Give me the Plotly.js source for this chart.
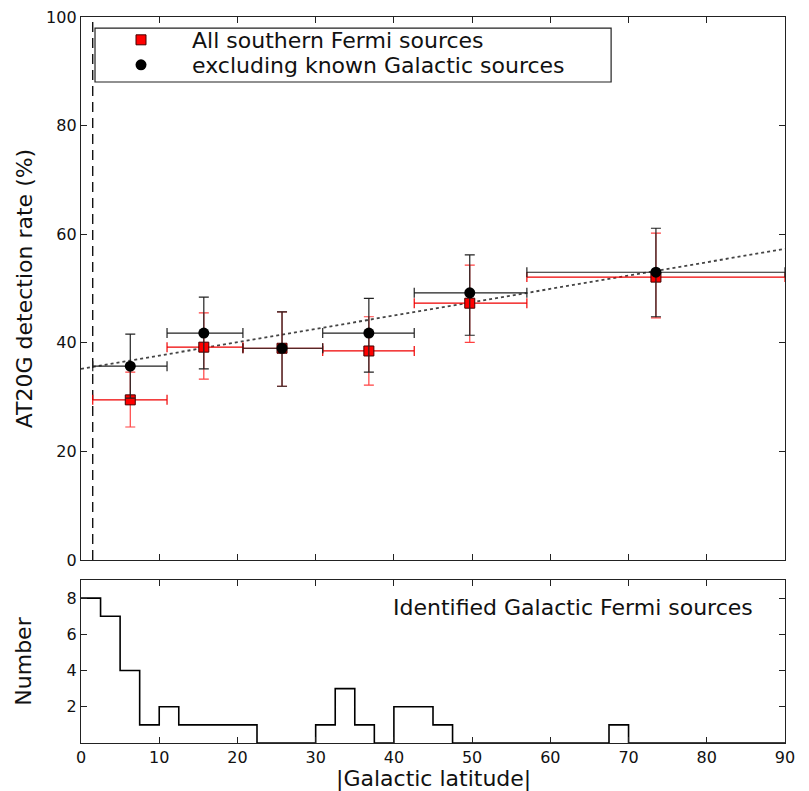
<!DOCTYPE html>
<html>
<head>
<meta charset="utf-8">
<script src="https://cdn.plot.ly/plotly-3.0.1.min.js"></script>
<style>html,body{margin:0;padding:0;background:#fff;}#chart{width:809px;height:791px;}</style>
</head>
<body>
<div id="chart"></div>
<script>
// Detection rate per latitude bin
const binLo = [1.5, 11.0, 20.7, 30.9, 42.6, 57.0];
const binHi = [11.0, 20.7, 30.9, 42.6, 57.0, 90.0];
const latCenter = [6.3, 15.7, 25.7, 36.8, 49.7, 73.5];

const allRate = [29.5, 39.2, 39.0, 38.5, 47.3, 52.1];
const allUpper = [34.6, 45.5, 45.7, 44.8, 54.3, 60.2];
const allLower = [24.5, 33.3, 32.0, 32.2, 40.1, 44.6];

const exRate = [35.7, 41.8, 39.0, 41.8, 49.2, 53.0];
const exUpper = [41.6, 48.4, 45.7, 48.2, 56.2, 61.1];
const exLower = [29.8, 35.2, 32.0, 34.6, 41.4, 44.8];

// linear fit (dotted)
const fitX = [0, 90];
const fitY = [35.2, 57.3];

// latitude cut (dashed)
const cutX = [1.5, 1.5];
const cutY = [0, 100];

// Histogram of identified Galactic Fermi sources (bins of 2.5 deg)
const histEdges = [0,2.5,5,7.5,10,12.5,15,17.5,20,22.5,25,27.5,30,32.5,35,37.5,40,42.5,45,47.5,50,52.5,55,57.5,60,62.5,65,67.5,70,72.5,75,77.5,80,82.5,85,87.5,90];
const histCounts = [8,7,4,1,2,1,1,1,1,0,0,0,1,3,1,0,2,2,1,0,0,0,0,0,0,0,0,1,0,0,0,0,0,0,0,0];

const errPlus = (hi, c) => hi.map((v, i) => v - c[i]);
const errMinus = (lo, c) => lo.map((v, i) => c[i] - v);

const stepX = histEdges.slice();
const stepY = histCounts.concat([histCounts[histCounts.length - 1]]);

const FONT = 'DejaVu Sans, Liberation Sans, sans-serif';

const traces = [
  {
    x: cutX, y: cutY, xaxis: 'x', yaxis: 'y', mode: 'lines',
    line: {color: 'black', width: 1.3, dash: '10px,6px'}, showlegend: false, hoverinfo: 'skip'
  },
  {
    x: fitX, y: fitY, xaxis: 'x', yaxis: 'y', mode: 'lines',
    line: {color: '#444', width: 1.8, dash: 'dot'}, showlegend: false, hoverinfo: 'skip'
  },
  {
    name: 'All southern Fermi sources', legend: 'legend',
    x: latCenter, y: allRate, xaxis: 'x', yaxis: 'y', mode: 'markers',
    marker: {symbol: 'square', size: 10, color: 'red', line: {color: '#400', width: 1}},
    error_y: {type: 'data', array: errPlus(allUpper, allRate), arrayminus: errMinus(allLower, allRate), color: 'rgba(255,0,0,0.75)', thickness: 1.2, width: 5},
    error_x: {type: 'data', array: errPlus(binHi, latCenter), arrayminus: errMinus(binLo, latCenter), color: 'rgb(240,0,0)', thickness: 1.2, width: 5}
  },
  {
    name: 'excluding known Galactic sources', legend: 'legend2',
    x: latCenter, y: exRate, xaxis: 'x', yaxis: 'y', mode: 'markers',
    marker: {symbol: 'circle', size: 11, color: 'black'},
    error_y: {type: 'data', array: errPlus(exUpper, exRate), arrayminus: errMinus(exLower, exRate), color: '#222', thickness: 1.2, width: 5},
    error_x: {type: 'data', array: errPlus(binHi, latCenter), arrayminus: errMinus(binLo, latCenter), color: '#222', thickness: 1.2, width: 5}
  },
  {
    x: stepX, y: stepY, xaxis: 'x2', yaxis: 'y2', mode: 'lines',
    line: {color: 'black', width: 1.6, shape: 'hv'}, showlegend: false, hoverinfo: 'skip'
  }
];

const axisCommon = {
  showline: true, linecolor: '#222', linewidth: 1.2, mirror: 'ticks',
  ticks: 'inside', ticklen: 6, tickcolor: '#222', tickwidth: 1,
  showgrid: false, zeroline: false,
  tickfont: {family: FONT, size: 16, color: '#111'}
};

const legendCommon = {
  xanchor: 'left', yanchor: 'middle',
  bgcolor: 'rgba(0,0,0,0)', borderwidth: 0,
  font: {family: FONT, size: 22, color: '#111'},
  itemwidth: 92, tracegroupgap: 0
};

const layout = {
  width: 809, height: 791,
  margin: {l: 81, r: 24, t: 17, b: 48},
  paper_bgcolor: 'white', plot_bgcolor: 'white',
  font: {family: FONT, color: '#111'},
  showlegend: true,
  legend: Object.assign({}, legendCommon, {x: 0.0128, y: 0.9683}),
  legend2: Object.assign({}, legendCommon, {x: 0.0128, y: 0.9339}),
  xaxis: Object.assign({}, axisCommon, {
    domain: [0, 1], anchor: 'y', range: [0, 90], tickvals: [0,10,20,30,40,50,60,70,80,90], showticklabels: false
  }),
  yaxis: Object.assign({}, axisCommon, {
    domain: [0.252, 1], anchor: 'x', range: [0, 100], tickvals: [0,20,40,60,80,100],
    title: {text: 'AT20G detection rate (%)', font: {family: FONT, size: 22, color: '#111'}, standoff: 7}
  }),
  xaxis2: Object.assign({}, axisCommon, {
    domain: [0, 1], anchor: 'y2', range: [0, 90], tickvals: [0,10,20,30,40,50,60,70,80,90]
  }),
  yaxis2: Object.assign({}, axisCommon, {
    domain: [0, 0.2245], anchor: 'x2', range: [0, 9], tickvals: [2,4,6,8],
    title: {text: 'Number', font: {family: FONT, size: 22, color: '#111'}, standoff: 28}
  }),
  shapes: [
    {type: 'rect', xref: 'paper', yref: 'paper', x0: 0.0199, x1: 0.753, y0: 0.9105, y1: 0.9848,
     line: {color: '#222', width: 1.2}, fillcolor: 'rgba(0,0,0,0)'}
  ],
  annotations: [
    {xref: 'paper', yref: 'paper', x: 0.957, y: 0.187, xanchor: 'right', yanchor: 'middle',
     text: 'Identified Galactic Fermi sources', showarrow: false,
     font: {family: FONT, size: 22, color: '#111'}},
    {xref: 'paper', yref: 'paper', x: 0.5, y: -0.0489, xanchor: 'center', yanchor: 'middle',
     text: '|Galactic latitude|', showarrow: false,
     font: {family: FONT, size: 22, color: '#111'}}
  ]
};

Plotly.newPlot('chart', traces, layout, {displayModeBar: false, staticPlot: true});
</script>
</body>
</html>
